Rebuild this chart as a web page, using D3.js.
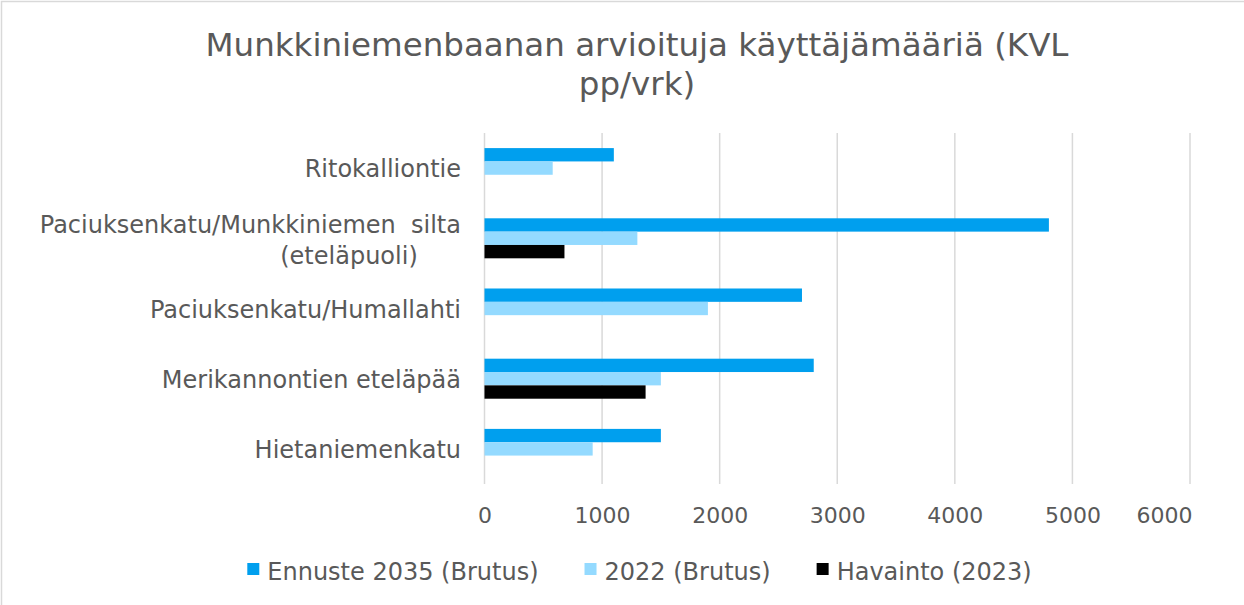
<!DOCTYPE html>
<html>
<head>
<meta charset="utf-8">
<script src="https://cdn.jsdelivr.net/npm/d3@7/dist/d3.min.js"></script>
<style>
  html, body { margin: 0; padding: 0; background: #ffffff; }
  svg { display: block; }
  text { font-family: "DejaVu Sans", Verdana, sans-serif; fill: #595959; white-space: pre; }
</style>
</head>
<body>
<svg id="chart" width="1244" height="605"></svg>
<script>
// Locations (top to bottom), series and their values (KVL pp/vrk)
const categories = [
  "Ritokalliontie",
  "Paciuksenkatu/Munkkiniemen  silta\n(eteläpuoli)",
  "Paciuksenkatu/Humallahti",
  "Merikannontien eteläpää",
  "Hietaniemenkatu"
];
const seriesNames = ["Ennuste 2035 (Brutus)", "2022 (Brutus)", "Havainto (2023)"];
const ennuste2035 = [1100, 4800, 2700, 2800, 1500];
const brutus2022 = [580, 1300, 1900, 1500, 920];
const havainto2023 = [null, 680, null, 1370, null];
const xTicks = [0, 1000, 2000, 3000, 4000, 5000, 6000];
const titleLines = ["Munkkiniemenbaanan arvioituja käyttäjämääriä (KVL", "pp/vrk)"];

const seriesValues = [ennuste2035, brutus2022, havainto2023];
const colors = ["#009FEE", "#94DAFF", "#000000"];

const svg = d3.select("#chart");
const W = 1244, H = 605;
const plot = { left: 484.5, right: 1190, top: 133, bottom: 484 };

// chart area frame
svg.append("rect")
  .attr("x", 1.5).attr("y", 1.5)
  .attr("width", W + 20).attr("height", H + 20)
  .attr("fill", "#ffffff").attr("stroke", "#d9d9d9").attr("stroke-width", 1.5);

// title
const title = svg.append("text").attr("text-anchor", "middle").style("font-size", "32.5px");
titleLines.forEach((line, i) => {
  title.append("tspan").attr("x", 637).attr("y", 56 + i * 39).text(line);
});

const x = d3.scaleLinear().domain([0, 6000]).range([plot.left, plot.right]);
const y = d3.scaleBand().domain(categories).range([plot.top, plot.bottom])
  .paddingInner(0.43).paddingOuter(0.215);
const ySeries = d3.scaleBand().domain(seriesNames).range([0, y.bandwidth()]);

// vertical gridlines
svg.append("g")
  .selectAll("line")
  .data(xTicks)
  .join("line")
  .attr("x1", d => x(d)).attr("x2", d => x(d))
  .attr("y1", plot.top).attr("y2", plot.bottom)
  .attr("stroke", "#d9d9d9").attr("stroke-width", 1.5);

// x axis labels
const xAxis = d3.axisBottom(x).tickValues(xTicks).tickSize(0).tickPadding(0).tickFormat(d3.format("d"));
const gx = svg.append("g").attr("transform", `translate(0,${plot.bottom})`).call(xAxis);
gx.select(".domain").remove();
gx.selectAll("text")
  .attr("y", 39).attr("dy", null)
  .style("font-size", "22px").style("font-family", null).attr("fill", null);
// keep the last label inside the frame
gx.selectAll(".tick").filter(d => d === xTicks[xTicks.length - 1])
  .select("text").attr("text-anchor", "end").attr("x", 2);

// bars
const rows = [];
categories.forEach((c, ci) => {
  seriesNames.forEach((s, si) => {
    const v = seriesValues[si][ci];
    if (v != null) rows.push({ c, s, si, v });
  });
});
svg.append("g")
  .selectAll("rect")
  .data(rows)
  .join("rect")
  .attr("x", x(0))
  .attr("y", d => y(d.c) + ySeries(d.s))
  .attr("width", d => x(d.v) - x(0))
  .attr("height", ySeries.bandwidth())
  .attr("fill", d => colors[d.si]);

// category labels
const labelX = 461;
const cats = svg.append("g").style("font-size", "24px");
categories.forEach(c => {
  const lines = c.split("\n");
  const cy = y(c) + y.bandwidth() / 2;
  if (lines.length === 1) {
    cats.append("text").attr("x", labelX).attr("y", cy + 9).attr("text-anchor", "end").text(lines[0]);
  } else {
    cats.append("text").attr("x", labelX).attr("y", cy - 5).attr("text-anchor", "end").text(lines[0]);
    cats.append("text").attr("x", labelX - 112).attr("y", cy + 26).attr("text-anchor", "middle").text(lines[1]);
  }
});

// legend
const legend = svg.append("g");
const items = [];
let cursor = 0;
seriesNames.forEach((s, i) => {
  const g = legend.append("g");
  g.append("rect").attr("x", 0).attr("y", -17).attr("width", 12).attr("height", 12).attr("fill", colors[i]);
  const t = g.append("text").attr("x", 20).attr("y", 0).style("font-size", "24px").text(s);
  const w = 20 + t.node().getComputedTextLength();
  items.push({ g, offset: cursor });
  cursor += w + 46;
});
const legendWidth = cursor - 46;
const legendStart = 639.5 - legendWidth / 2;
items.forEach(it => it.g.attr("transform", `translate(${legendStart + it.offset},${580})`));
</script>
</body>
</html>
